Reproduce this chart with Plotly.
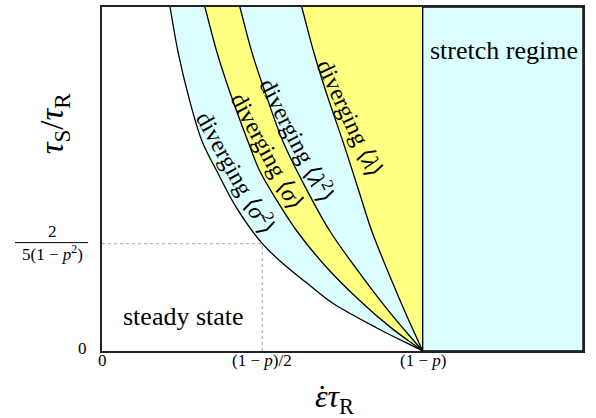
import plotly.graph_objects as go

# x in units of (1-p); y in units of 2/(5(1-p^2))
x_tickvals = [0, 0.5, 1.0]
x_ticktext = ["0", "(1 − <i>p</i>)/2", "(1 − <i>p</i>)"]

sig2_x = [0.212, 0.237, 0.27, 0.312, 0.358, 0.42, 0.5, 0.564, 0.64, 0.72, 0.86, 1.0]
sig2_y = [3.204, 2.787, 2.37, 1.954, 1.676, 1.33, 1.0, 0.815, 0.63, 0.444, 0.21, 0.0]

sig_x = [0.321, 0.358, 0.40, 0.455, 0.492, 0.55, 0.607, 0.7, 0.8, 0.9, 1.0]
sig_y = [3.204, 2.787, 2.40, 1.954, 1.676, 1.38, 1.12, 0.78, 0.48, 0.22, 0.0]

lam2_x = [0.430, 0.467, 0.51, 0.564, 0.63, 0.710, 0.8, 0.9, 1.0]
lam2_y = [3.204, 2.787, 2.40, 1.954, 1.55, 1.12, 0.74, 0.35, 0.0]

lam_x = [0.623, 0.660, 0.70, 0.751, 0.80, 0.841, 0.9, 0.95, 1.0]
lam_y = [3.204, 2.787, 2.40, 1.954, 1.50, 1.12, 0.68, 0.33, 0.0]

threshold_x = 1.0
xmax = 1.5
ymax = 3.204
mark_x = 0.5
mark_y = 1.0

CYAN = "#dbffff"
YELLOW = "#ffff80"
FONT = "Liberation Serif"

curves = [
    (sig2_x, sig2_y, CYAN),
    (sig_x, sig_y, YELLOW),
    (lam2_x, lam2_y, CYAN),
    (lam_x, lam_y, YELLOW),
]

fig = go.Figure()
for xs, ys, col in curves:
    k = 4
    tx = xs[0] + k * (xs[0] - xs[1])
    ty = ys[0] + k * (ys[0] - ys[1])
    bx = xs[-1] + k * (xs[-1] - xs[-2])
    by = ys[-1] + k * (ys[-1] - ys[-2])
    px = [tx] + list(xs) + [bx, 1.7, 1.7, tx]
    py = [ty] + list(ys) + [by, -2, 6, 6]
    fig.add_trace(go.Scatter(
        x=px, y=py, fill="toself", fillcolor=col, mode="lines",
        line=dict(color="black", width=1.3, shape="spline", smoothing=1),
        hoverinfo="skip", showlegend=False))

shapes = [
    dict(type="rect", xref="x", yref="y", x0=threshold_x, x1=xmax, y0=0, y1=ymax,
         fillcolor=CYAN, line=dict(color="black", width=1.4), layer="above"),
    dict(type="line", xref="x", yref="y", x0=0, x1=mark_x, y0=mark_y, y1=mark_y,
         line=dict(color="#b8b8b8", width=1.3, dash="dot"), layer="above"),
    dict(type="line", xref="x", yref="y", x0=mark_x, x1=mark_x, y0=0, y1=mark_y,
         line=dict(color="#b8b8b8", width=1.3, dash="dot"), layer="above"),
]

def pxp(px):
    return (px - 102) / 481.0

def pyp(py):
    return (351 - py) / 346.0

ann = []
# x tick labels
for v, t in zip(x_tickvals, x_ticktext):
    ann.append(dict(x=v, y=pyp(361), xref="x", yref="paper", text=t, showarrow=False,
                    font=dict(family=FONT, size=17, color="black"), xanchor="center", yanchor="middle"))
# y tick labels
ann.append(dict(x=pxp(89), y=pyp(348), xref="paper", yref="paper", text="0", showarrow=False,
                font=dict(family=FONT, size=17, color="black"), xanchor="right", yanchor="middle"))
ann.append(dict(x=pxp(52), y=pyp(231), xref="paper", yref="paper", text="2", showarrow=False,
                font=dict(family=FONT, size=17, color="black"), xanchor="center", yanchor="middle"))
ann.append(dict(x=pxp(52), y=pyp(252), xref="paper", yref="paper", text="5(1 − <i>p</i><sup>2</sup>)",
                showarrow=False, font=dict(family=FONT, size=17, color="black"),
                xanchor="center", yanchor="middle"))
shapes.append(dict(type="line", xref="paper", yref="paper", x0=pxp(15), x1=pxp(88), y0=pyp(242), y1=pyp(242),
                   line=dict(color="black", width=1)))
# axis titles
ann.append(dict(x=pxp(334), y=pyp(399), xref="paper", yref="paper",
                text="<i>ετ</i><sub>R</sub>", showarrow=False,
                font=dict(family=FONT, size=32, color="black"), xanchor="center", yanchor="middle"))
ann.append(dict(x=pxp(322), y=pyp(397), xref="paper", yref="paper",
                text="˙", showarrow=False,
                font=dict(family=FONT, size=31, color="black"), xanchor="center", yanchor="middle"))
ann.append(dict(x=pxp(54), y=pyp(122), xref="paper", yref="paper",
                text="<i>τ</i><sub>S</sub>/<i>τ</i><sub>R</sub>", showarrow=False, textangle=-90,
                font=dict(family=FONT, size=33, color="black"), xanchor="center", yanchor="middle"))
# region labels
labels = [
    ("diverging ⟨<i>σ</i><sup>2</sup>⟩", 0.421, 1.667, 61, 24),
    ("diverging ⟨<i>σ</i>⟩", 0.514, 1.86, 62, 24),
    ("diverging ⟨<i>λ</i><sup>2</sup>⟩", 0.611, 1.972, 63, 24),
    ("diverging ⟨<i>λ</i>⟩", 0.773, 2.17, 65, 24),
    ("steady state", 0.255, 0.324, 0, 26),
    ("stretch regime", 1.255, 2.80, 0, 26),
]
for t, x, y, a, s in labels:
    ann.append(dict(x=x, y=y, xref="x", yref="y", text=t, showarrow=False, textangle=a,
                    font=dict(family=FONT, size=s, color="black"), xanchor="center", yanchor="middle"))

axis_common = dict(showgrid=False, zeroline=False, showticklabels=False, ticks="",
                   showline=True, mirror=True, linecolor="#222222", linewidth=1.6)

fig.update_layout(
    width=596, height=418,
    margin=dict(l=102, r=13, t=5, b=67),
    plot_bgcolor="white", paper_bgcolor="white",
    showlegend=False,
    xaxis=dict(range=[0, xmax], **axis_common),
    yaxis=dict(range=[0, ymax], **axis_common),
    shapes=shapes,
    annotations=ann,
)

fig.write_html("out.html", config={"displayModeBar": False},
               post_script="document.body.style.margin='0';")
